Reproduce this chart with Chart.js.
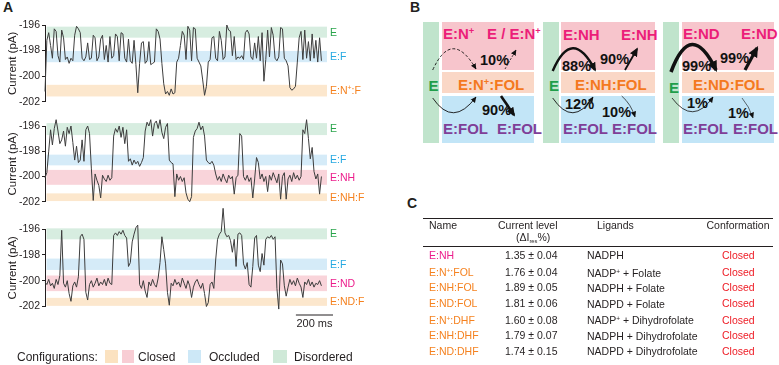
<!DOCTYPE html>
<html>
<head>
<meta charset="utf-8">
<script src="https://cdn.jsdelivr.net/npm/chart.js@4.4.1/dist/chart.umd.min.js"></script>
<style>
  body { margin: 0; width: 779px; height: 365px; position: relative; overflow: hidden; background: #fff;
         font-family: "Liberation Sans", Arial, sans-serif; color: #231f20; }
  canvas { position: absolute; left: 0; }
  .t { position: absolute; white-space: nowrap; line-height: 14px; }
  .pl { font-weight: bold; font-size: 14px; }
  .r { position: absolute; }
  .b { position: absolute; white-space: nowrap; font-weight: bold; font-size: 15px; line-height: 16px; }
  .p { font-size: 14.5px; color: #111; }
  .mg { color: #ec1e79; } .or { color: #f47920; } .pu { color: #7f3f98; } .gr { color: #1f9e49; }
  sup { font-size: 0.62em; vertical-align: 0.5em; line-height: 0; }
  sub { font-size: 0.55em; vertical-align: -0.3em; line-height: 0; }
  .c { position: absolute; white-space: nowrap; font-size: 10.5px; line-height: 13px; }
  .cl { color: #ee1c25; } .cm { color: #ec1e8c; } .co { color: #f58220; }
  .lg { position: absolute; font-size: 12px; line-height: 14px; white-space: nowrap; }
  .sw { position: absolute; top: 350px; height: 13px; }
</style>
</head>
<body>

<!-- panel letters -->
<div class="t pl" style="left:3px;top:0px">A</div>
<div class="t pl" style="left:410px;top:0px">B</div>
<div class="t pl" style="left:407px;top:196px">C</div>

<canvas id="trace1" width="380" height="110" style="top:0px"></canvas>
<canvas id="trace2" width="380" height="110" style="top:100px"></canvas>
<canvas id="trace3" width="380" height="135" style="top:200px"></canvas>

<!-- legend for panel A -->
<div class="lg" style="left:17px;top:350px">Configurations:</div>
<div class="sw" style="left:105px;width:13px;background:#fbe2c0"></div>
<div class="sw" style="left:122px;width:12px;background:#f8cdd4"></div>
<div class="lg" style="left:138px;top:350px">Closed</div>
<div class="sw" style="left:188px;width:13px;background:#cde8f7"></div>
<div class="lg" style="left:209px;top:350px">Occluded</div>
<div class="sw" style="left:273px;width:14px;background:#cfe9d8"></div>
<div class="lg" style="left:294px;top:350px">Disordered</div>

<!-- panel B boxes -->
<div class="r" style="left:423px;top:22px;width:16px;height:120.5px;background:#c0e4cc"></div>
<div class="r" style="left:441.5px;top:22px;width:92px;height:47.5px;background:#f7c5cc"></div>
<div class="r" style="left:441.5px;top:72px;width:92px;height:21px;background:#fad7c6"></div>
<div class="r" style="left:441.5px;top:95.5px;width:92px;height:47px;background:#c2e5f7"></div>

<div class="r" style="left:543px;top:22px;width:16px;height:120.5px;background:#c0e4cc"></div>
<div class="r" style="left:561px;top:22px;width:94px;height:47.5px;background:#f7c5cc"></div>
<div class="r" style="left:561px;top:72px;width:94px;height:21px;background:#fad7c6"></div>
<div class="r" style="left:561px;top:95.5px;width:94px;height:47px;background:#c2e5f7"></div>

<div class="r" style="left:663px;top:22px;width:16px;height:120.5px;background:#c0e4cc"></div>
<div class="r" style="left:681.5px;top:22px;width:92.5px;height:47.5px;background:#f7c5cc"></div>
<div class="r" style="left:681.5px;top:72px;width:92.5px;height:21px;background:#fad7c6"></div>
<div class="r" style="left:681.5px;top:95.5px;width:92.5px;height:47px;background:#c2e5f7"></div>

<!-- panel B text -->
<div class="b mg" style="left:443px;top:26px">E:N<sup>+</sup></div>
<div class="b mg" style="left:487px;top:26px">E / E:N<sup>+</sup></div>
<div class="b p" style="left:480px;top:52px">10%</div>
<div class="b gr" style="left:428.5px;top:78px">E</div>
<div class="b or" style="left:458px;top:77px">E:N<sup>+</sup>:FOL</div>
<div class="b p" style="left:482px;top:102px">90%</div>
<div class="b pu" style="left:443px;top:121px">E:FOL</div>
<div class="b pu" style="left:497px;top:121px">E:FOL</div>

<div class="b mg" style="left:563px;top:27px">E:NH</div>
<div class="b mg" style="left:621px;top:27px">E:NH</div>
<div class="b p" style="left:562px;top:58px">88%</div>
<div class="b p" style="left:600px;top:51px">90%</div>
<div class="b gr" style="left:549px;top:78px">E</div>
<div class="b or" style="left:575px;top:77px">E:NH:FOL</div>
<div class="b p" style="left:565px;top:96px">12%</div>
<div class="b p" style="left:602px;top:104px">10%</div>
<div class="b pu" style="left:563px;top:121px">E:FOL</div>
<div class="b pu" style="left:612px;top:121px">E:FOL</div>

<div class="b mg" style="left:683px;top:26px">E:ND</div>
<div class="b mg" style="left:741px;top:26px">E:ND</div>
<div class="b p" style="left:682px;top:58px">99%</div>
<div class="b p" style="left:720px;top:50px">99%</div>
<div class="b gr" style="left:669px;top:80px">E</div>
<div class="b or" style="left:693px;top:77px">E:ND:FOL</div>
<div class="b p" style="left:687px;top:95px">1%</div>
<div class="b p" style="left:728px;top:105px">1%</div>
<div class="b pu" style="left:683px;top:121px">E:FOL</div>
<div class="b pu" style="left:733px;top:121px">E:FOL</div>

<svg width="779" height="365" style="position:absolute;left:0;top:0;pointer-events:none">
  <defs>
    <marker id="hs" viewBox="0 0 10 10" refX="9" refY="5" markerWidth="6" markerHeight="6" markerUnits="userSpaceOnUse" orient="auto">
      <path d="M0,0.5 L10,5 L0,9.5 z" fill="#111"/>
    </marker>
    <marker id="hb" viewBox="0 0 10 10" refX="8" refY="5" markerWidth="9" markerHeight="9" markerUnits="userSpaceOnUse" orient="auto">
      <path d="M0,0.5 L10,5 L0,9.5 z" fill="#111"/>
    </marker>
    <marker id="hx" viewBox="0 0 10 10" refX="8" refY="5" markerWidth="11" markerHeight="11" markerUnits="userSpaceOnUse" orient="auto">
      <path d="M0,0.5 L10,5 L0,9.5 z" fill="#111"/>
    </marker>
  </defs>
  <g fill="none" stroke="#111">
    <path d="M432.7,70 Q452,28 476,69" stroke-width="0.9" stroke-dasharray="3,2" marker-end="url(#hs)"/>
    <path d="M505,69 L516,50" stroke-width="0.8" stroke-dasharray="2,1.5" marker-end="url(#hs)"/>
    <path d="M432.7,98 Q453,128 476,97" stroke-width="0.9" marker-end="url(#hs)"/>
    <path d="M501,96 L514,115" stroke-width="2.6" marker-end="url(#hb)"/>

    <path d="M552.7,71 Q572,26 595,70" stroke-width="2.4" marker-end="url(#hb)"/>
    <path d="M625,70 L637,49" stroke-width="1.8" marker-end="url(#hb)"/>
    <path d="M552.7,98 Q573,128 593,97" stroke-width="0.9" marker-end="url(#hs)"/>
    <path d="M621.7,96 Q631,104 635,117" stroke-width="0.7" marker-end="url(#hs)"/>

    <path d="M671,72 Q691,18 716,70" stroke-width="3.6" marker-end="url(#hx)"/>
    <path d="M745,70 L757,48" stroke-width="3.2" marker-end="url(#hx)"/>
    <path d="M672,98 Q693,126 713,97" stroke-width="0.8" marker-end="url(#hs)"/>
    <path d="M742,98 Q749,106 753,118" stroke-width="0.6" marker-end="url(#hs)"/>
  </g>
</svg>

<!-- panel C table -->
<div class="r" style="left:423px;top:218px;width:350px;height:1px;background:#231f20"></div>
<div class="r" style="left:423px;top:245.5px;width:350px;height:1.5px;background:#231f20"></div>
<div class="c" style="left:429px;top:218.5px">Name</div>
<div class="c" style="left:498px;top:218.5px">Current level</div>
<div class="c" style="left:516px;top:231px">(ΔI<sub>res</sub>%)</div>
<div class="c" style="left:597px;top:218.5px">Ligands</div>
<div class="c" style="left:706.5px;top:218.5px">Conformation</div>
<div id="rows"></div>

<script>
// sampling interval of the traces (ms) and visible time window
const sampleMs = 10;
const timeMax = 1520;
const scaleBarMs = 200;
const yTicks = [-202, -200, -198, -196];

// current traces (pA), one value per sample
const trace1 = [
  -201.2, -197.2, -196.6, -197.6, -198.6, -196.3, -196.5, -198.4, -198.9, -196.4,
  -197.0, -198.7, -198.5, -199.0, -198.6, -198.8, -196.8, -196.1, -196.3, -196.6,
  -198.6, -198.8, -198.5, -197.4, -198.7, -198.6, -196.8, -197.0, -198.8, -198.5,
  -197.1, -196.8, -198.7, -197.6, -198.9, -196.9, -198.6, -198.4, -196.7, -196.9,
  -198.8, -196.6, -196.7, -198.6, -198.9, -197.1, -198.8, -199.0, -197.2, -199.1,
  -201.3, -199.0, -197.4, -197.3, -199.0, -198.8, -197.3, -199.1, -199.0, -198.9,
  -196.3, -196.5, -197.1, -199.0, -200.6, -201.4, -201.2, -201.5, -201.0, -201.4,
  -201.3, -198.9, -198.6, -197.6, -196.5, -196.8, -198.7, -196.1, -196.4, -198.8,
  -196.2, -196.3, -198.6, -198.9, -199.2, -200.3, -201.5, -200.8, -198.9, -198.7,
  -197.0, -196.9, -198.6, -198.8, -196.5, -197.2, -198.7, -198.5, -196.0, -196.4,
  -196.5, -198.4, -196.9, -198.7, -198.5, -198.6, -198.4, -198.7, -196.6, -196.4,
  -196.7, -198.5, -198.7, -197.4, -198.6, -196.9, -198.8, -196.6, -200.4, -198.7,
  -196.4, -198.5, -196.2, -196.8, -198.6, -198.8, -198.5, -196.2, -196.3, -198.6,
  -198.8, -199.2, -200.9, -201.1, -201.0, -200.8, -198.9, -197.0, -196.5, -198.7,
  -196.4, -198.6, -197.3, -198.8, -196.7, -198.6, -197.2, -198.9, -197.0, -198.8
];
const trace2 = [
  -200.1, -199.7, -198.0, -196.3, -197.5, -196.2, -195.5, -196.4, -197.4, -197.1,
  -196.4, -197.6, -196.1, -196.6, -196.0, -197.3, -198.7, -197.6, -198.9, -198.7,
  -197.1, -198.8, -196.3, -196.0, -196.6, -199.4, -201.9, -199.8, -200.3, -200.7,
  -201.7, -199.9, -200.2, -200.4, -199.9, -200.3, -200.1, -196.8, -196.2, -196.5,
  -196.0, -196.9, -196.1, -197.4, -196.3, -198.8, -198.6, -199.1, -198.7, -199.0,
  -198.8, -199.2, -198.9, -198.5, -196.4, -195.7, -196.0, -195.5, -196.8, -195.8,
  -195.6, -196.2, -195.5, -196.5, -197.0, -196.1, -195.8, -198.7, -198.9, -199.0,
  -201.6, -199.8, -200.3, -200.0, -200.4, -200.1, -201.3, -201.8, -202.0, -201.6,
  -196.9, -196.4, -196.2, -195.7, -196.3, -196.0, -196.8, -198.7, -198.9, -199.0,
  -198.8, -199.1, -199.8, -200.3, -200.0, -200.4, -199.8, -200.2, -200.5, -199.9,
  -200.2, -200.0, -201.4, -200.1, -199.9, -196.6, -196.8, -200.0, -200.3, -199.9,
  -200.4, -200.1, -201.7, -200.2, -198.5, -198.9, -200.2, -199.8, -200.4, -200.0,
  -201.2, -199.9, -200.3, -199.7, -200.1, -200.5, -199.8, -201.8, -200.0, -199.7,
  -201.8, -200.2, -199.9, -200.4, -199.7, -200.2, -199.9, -200.3, -200.0, -196.3,
  -196.6, -195.5, -197.0, -198.6, -197.7, -199.6, -200.2, -199.8, -201.4, -200.0
];
const trace3 = [
  -200.1, -200.3, -199.9, -200.4, -200.2, -200.6, -199.9, -200.3, -199.6, -196.1,
  -200.2, -200.5, -200.0, -201.0, -201.6, -200.4, -200.1, -200.5, -199.7, -196.6,
  -196.4, -196.8, -200.9, -201.5, -200.3, -200.0, -200.5, -200.2, -199.8, -200.4,
  -200.1, -200.3, -199.9, -200.4, -199.8, -200.2, -200.3, -196.5, -196.3, -196.5,
  -196.2, -196.4, -196.1, -196.5, -196.7, -198.9, -198.6, -197.0, -196.4, -195.9,
  -195.7, -200.3, -200.6, -200.0, -200.8, -201.3, -200.1, -200.4, -199.9, -200.3,
  -200.5, -199.8, -198.6, -196.6, -197.6, -198.7, -200.9, -201.9, -200.2, -200.4,
  -199.9, -200.3, -200.1, -200.5, -199.8, -200.2, -200.6, -200.0, -200.4, -201.3,
  -200.5, -200.1, -199.9, -200.3, -200.6, -200.2, -201.0, -202.0, -201.7, -200.3,
  -200.1, -200.6, -198.4, -196.8, -196.4, -196.2, -194.4, -196.3, -196.6, -196.5,
  -196.9, -197.8, -196.8, -198.9, -196.4, -196.3, -196.5, -198.7, -199.1, -198.6,
  -200.3, -200.5, -198.9, -196.7, -196.5, -198.8, -199.3, -197.9, -198.8, -196.8,
  -196.6, -196.7, -196.5, -196.8, -196.6, -200.6, -202.2, -198.4, -198.7, -200.4,
  -201.2, -200.5, -199.9, -200.3, -200.0, -200.4, -199.8, -200.2, -200.5, -201.3,
  -200.1, -200.3, -199.9, -200.4, -200.1, -200.5, -200.2, -200.3, -200.0, -200.4
];

// current levels of each state (pA): [name, low, high, configuration]
const bands1 = [
  ['E', -196.99, -196.13, 'disordered'],
  ['E:F', -198.91, -198.03, 'occluded'],
  ['E:N+:F', -201.59, -200.68, 'closedF']
];
const bands2 = [
  ['E', -196.72, -195.77, 'disordered'],
  ['E:F', -199.12, -198.27, 'occluded'],
  ['E:NH', -200.66, -199.48, 'closed'],
  ['E:NH:F', -201.95, -201.34, 'closedF']
];
const bands3 = [
  ['E', -196.80, -195.95, 'disordered'],
  ['E:F', -199.17, -198.29, 'occluded'],
  ['E:ND', -200.81, -199.60, 'closed'],
  ['E:ND:F', -201.95, -201.33, 'closedF']
];

// panel C table
const tableNames = ['E:NH', 'E:N+:FOL', 'E:NH:FOL', 'E:ND:FOL', 'E:N+:DHF', 'E:NH:DHF', 'E:ND:DHF'];
const tableLevels = ['1.35 ± 0.04', '1.76 ± 0.04', '1.89 ± 0.05', '1.81 ± 0.06', '1.60 ± 0.08', '1.79 ± 0.07', '1.74 ± 0.15'];
const tableLigands = ['NADPH', 'NADP+ + Folate', 'NADPH + Folate', 'NADPD + Folate',
                      'NADP+ + Dihydrofolate', 'NADPH + Dihydrofolate', 'NADPD + Dihydrofolate'];
const tableConf = ['Closed', 'Closed', 'Closed', 'Closed', 'Closed', 'Closed', 'Closed'];

const fam = '"Liberation Sans", Arial, sans-serif';
const ink = '#231f20';
const kindStyle = {
  disordered: { fill: '#d7ede0', text: '#2aa54c' },
  occluded:   { fill: '#d5ebf8', text: '#27a9e1' },
  closed:     { fill: '#f9d4da', text: '#ec1e8c' },
  closedF:    { fill: '#fce7cd', text: '#f58220' }
};

Chart.defaults.font.family = fam;
Chart.defaults.color = ink;

// text with "+" drawn as superscript
function drawSup(ctx, text, x, y, size) {
  let cx = x;
  text.split(/(\+)/).forEach(part => {
    if (!part) return;
    if (part === '+') {
      ctx.font = (size * 0.65) + 'px ' + fam;
      ctx.fillText('+', cx, y - size * 0.33);
    } else {
      ctx.font = size + 'px ' + fam;
      ctx.fillText(part, cx, y);
    }
    cx += ctx.measureText(part).width;
  });
}

function bandPlugin(bands, withBar) {
  return {
    id: 'bands',
    beforeDatasetsDraw(chart) {
      const { ctx, chartArea: a, scales: { y } } = chart;
      ctx.save();
      bands.forEach(([name, lo, hi, kind]) => {
        const top = y.getPixelForValue(hi), bot = y.getPixelForValue(lo);
        ctx.fillStyle = kindStyle[kind].fill;
        ctx.fillRect(a.left + 1.5, top, a.right - a.left - 1.5, bot - top);
      });
      ctx.restore();
    },
    afterDraw(chart) {
      const { ctx, chartArea: a, scales: { x, y } } = chart;
      ctx.save();
      ctx.textBaseline = 'middle';
      bands.forEach(([name, lo, hi, kind]) => {
        const mid = (y.getPixelForValue(hi) + y.getPixelForValue(lo)) / 2;
        ctx.fillStyle = kindStyle[kind].text;
        drawSup(ctx, name, a.right + 3, mid + 0.5, 10.5);
      });
      if (withBar) {
        const len = x.getPixelForValue(scaleBarMs) - x.getPixelForValue(0);
        const x2 = a.right + 6, x1 = x2 - len, yb = a.bottom + 8;
        ctx.strokeStyle = ink;
        ctx.lineWidth = 1;
        ctx.beginPath();
        ctx.moveTo(x1, yb + 0.5);
        ctx.lineTo(x2, yb + 0.5);
        ctx.stroke();
        ctx.fillStyle = ink;
        ctx.textAlign = 'center';
        ctx.font = '11px ' + fam;
        ctx.fillText(scaleBarMs + ' ms', (x1 + x2) / 2, yb + 9.5);
      }
      ctx.restore();
    }
  };
}

function traceChart(id, values, bands, padTop, padBottom, withBar) {
  return new Chart(document.getElementById(id), {
    type: 'line',
    data: {
      datasets: [{
        data: values.map((v, i) => ({ x: i * sampleMs, y: v })),
        borderColor: '#3d3d3d',
        borderWidth: 1,
        pointRadius: 0,
        tension: 0,
        clip: false
      }]
    },
    options: {
      responsive: false,
      animation: false,
      events: [],
      layout: { padding: { left: 0, right: 53, top: padTop, bottom: padBottom } },
      plugins: { legend: { display: false }, tooltip: { enabled: false } },
      scales: {
        x: { type: 'linear', min: 0, max: timeMax, display: false },
        y: {
          min: yTicks[0],
          max: yTicks[yTicks.length - 1],
          afterBuildTicks: s => { s.ticks = yTicks.map(v => ({ value: v })); },
          afterFit: s => { s.width = 45; },
          ticks: { color: ink, font: { size: 10.5 }, padding: 2 },
          grid: { drawOnChartArea: false, drawTicks: true, tickLength: 3, color: ink },
          border: { color: ink, width: 1 },
          title: { display: true, text: 'Current (pA)', color: ink, font: { size: 11.5 }, padding: { top: 6, bottom: 0 } }
        }
      }
    },
    plugins: [bandPlugin(bands, withBar)]
  });
}

traceChart('trace1', trace1, bands1, 25, 8, false);
traceChart('trace2', trace2, bands2, 26, 7, false);
traceChart('trace3', trace3, bands3, 29, 28.5, true);

// table rows
const rowY = [248.5, 266, 281, 297, 313.5, 329, 344.5];
const sup = s => s.replace(/N\+/g, 'N<sup>+</sup>').replace(/P\+/g, 'P<sup>+</sup>');
let html = '';
tableNames.forEach((n, i) => {
  const cls = i === 0 ? 'cm' : 'co';
  html += `<div class="c ${cls}" style="left:429px;top:${rowY[i]}px">${sup(n)}</div>`;
  html += `<div class="c" style="left:505px;top:${rowY[i]}px">${tableLevels[i]}</div>`;
  html += `<div class="c" style="left:587px;top:${rowY[i] + (tableLigands[i].includes('+ ') && i > 0 ? 0.5 : 0)}px">${sup(tableLigands[i])}</div>`;
  html += `<div class="c cl" style="left:722px;top:${rowY[i]}px">${tableConf[i]}</div>`;
});
document.getElementById('rows').innerHTML = html;
</script>
</body>
</html>
